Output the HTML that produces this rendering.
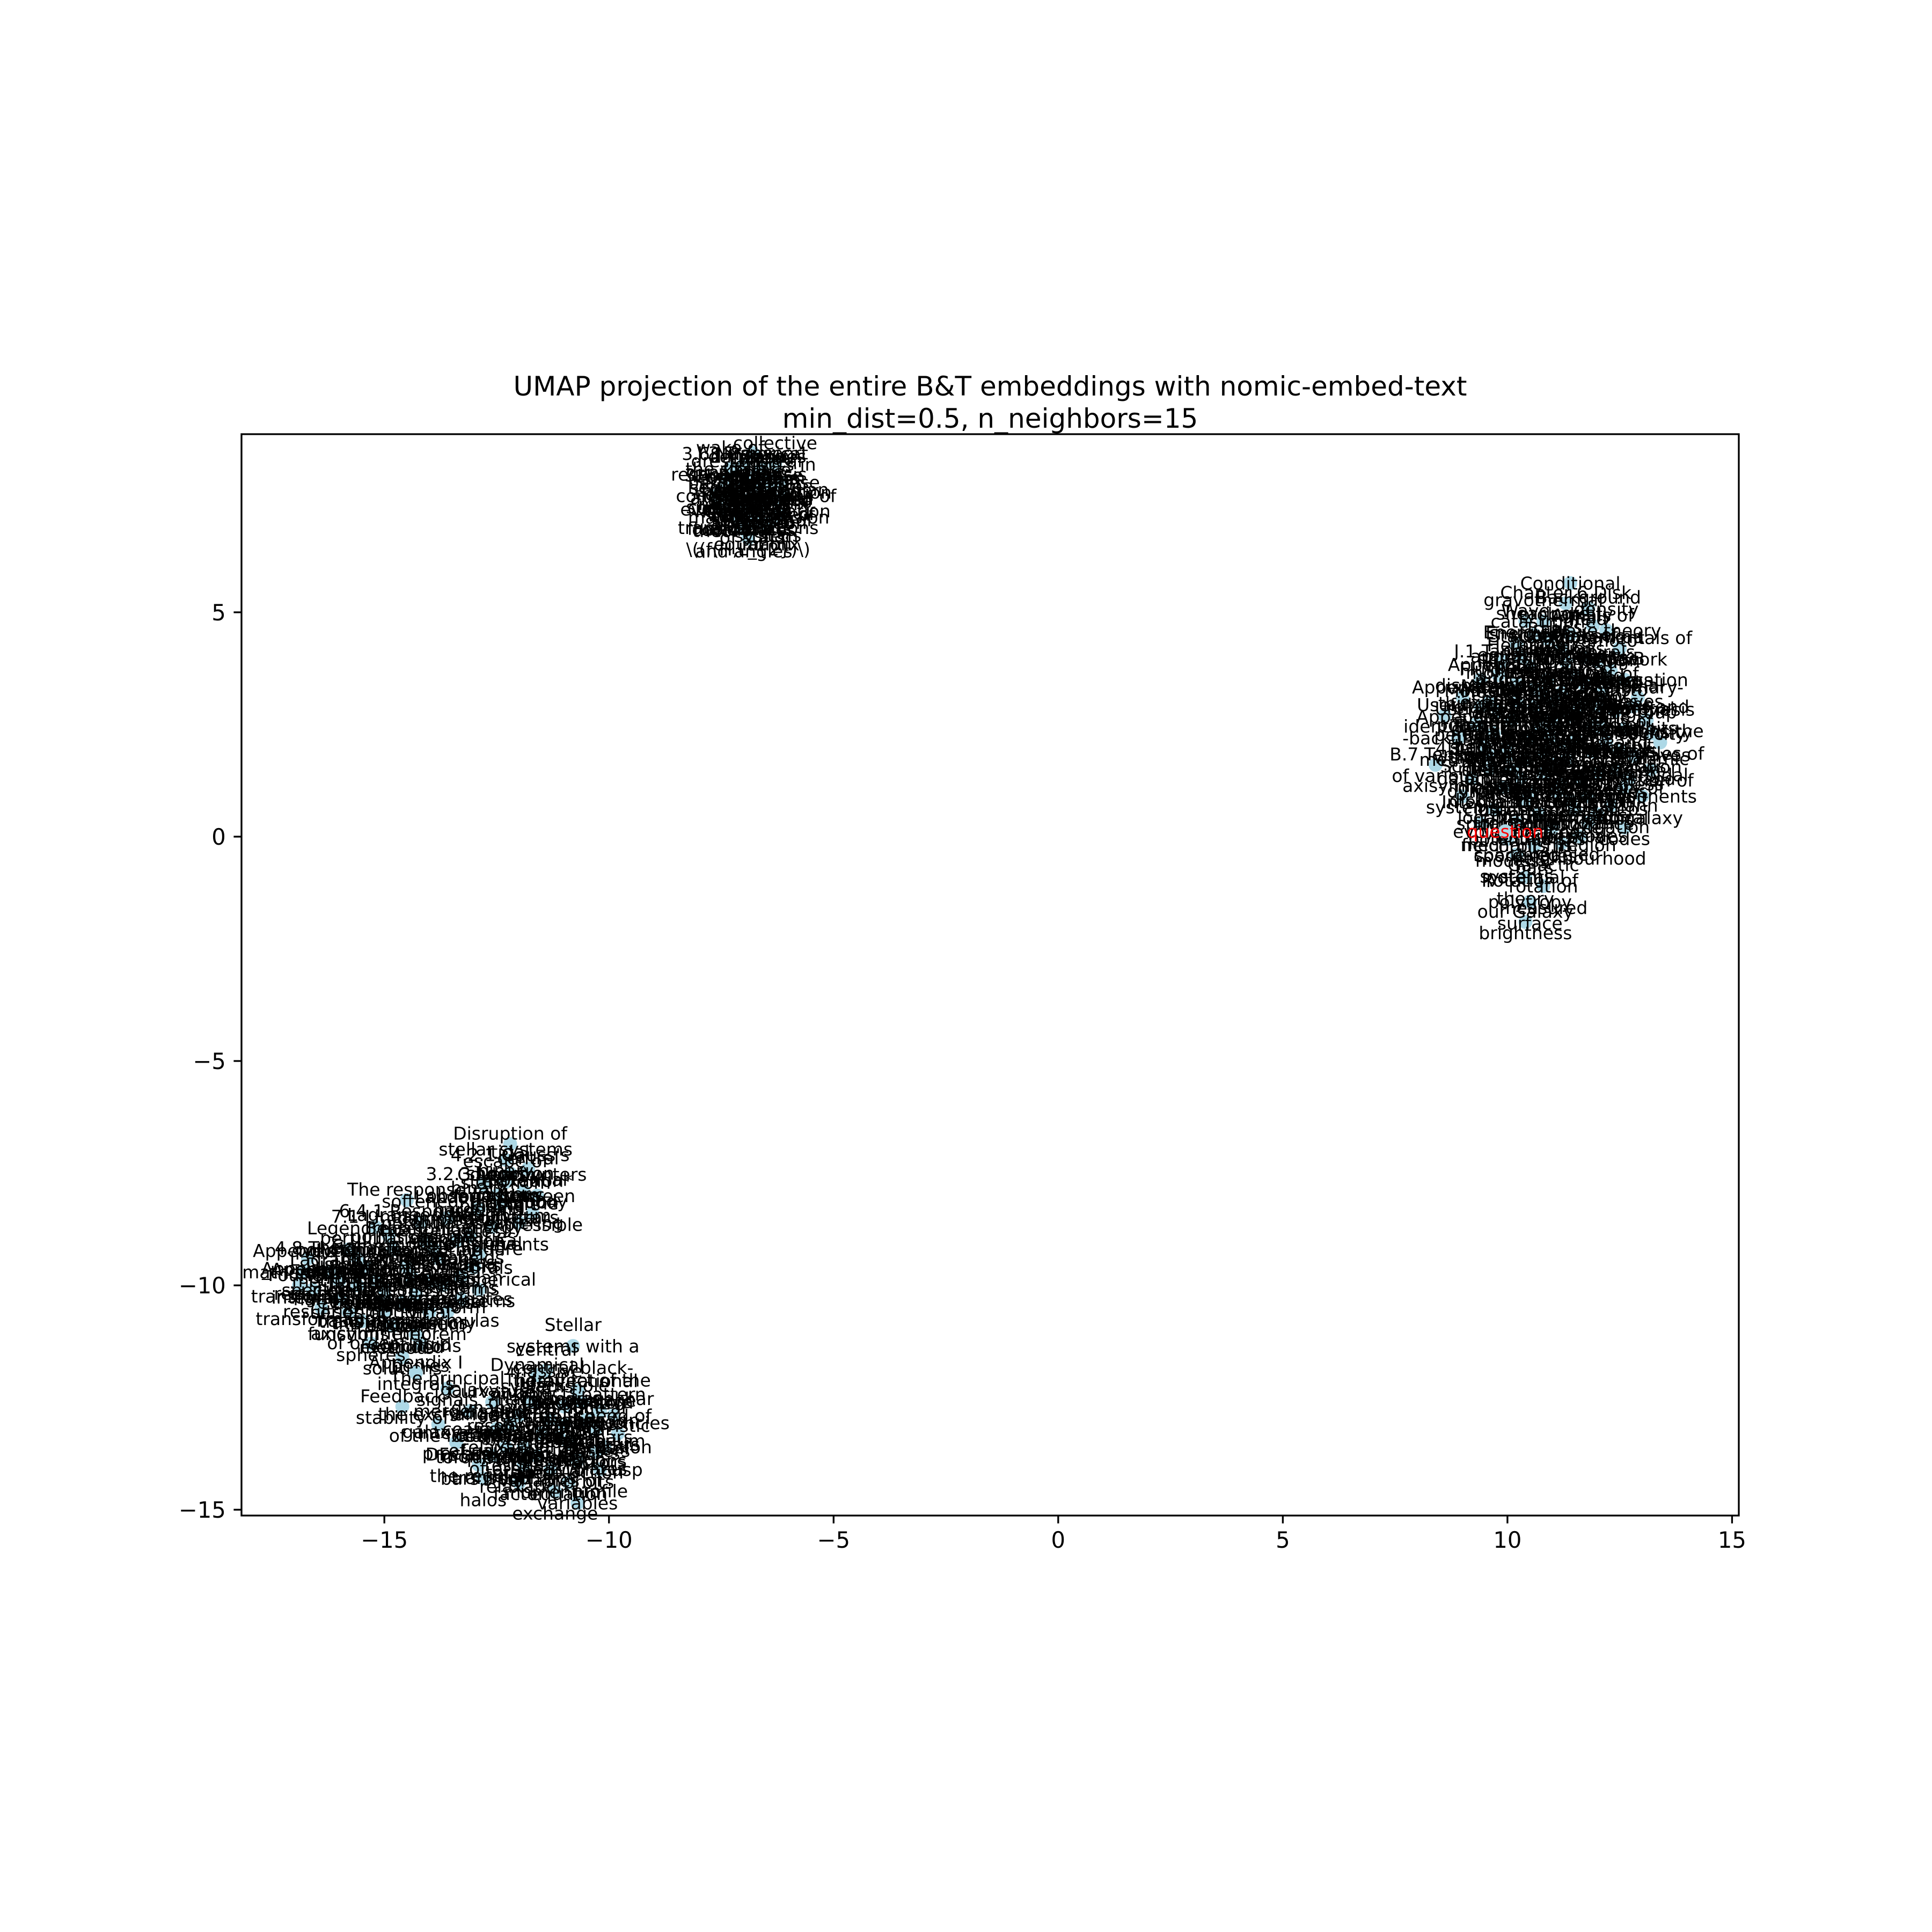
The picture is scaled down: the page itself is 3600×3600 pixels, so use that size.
<!DOCTYPE html>
<html><head><meta charset="utf-8"><style>
html,body{margin:0;padding:0;background:#fff;}
svg{display:block;font-family:"DejaVu Sans","Liberation Sans",sans-serif;}
</style></head><body>
<svg id="chart" width="3600" height="3600" viewBox="0 0 3600 3600">
<rect x="0" y="0" width="3600" height="3600" fill="#fff"/>
<text x="1845" y="737" font-size="50" text-anchor="middle">UMAP projection of the entire B&amp;T embeddings with nomic-embed-text</text>
<text x="1845" y="797" font-size="50" text-anchor="middle">min_dist=0.5, n_neighbors=15</text>
<g id="plot"></g>
<g id="axes"></g>
</svg>
<script>
const xTicks=[-15,-10,-5,0,5,10,15];
const yTicks=[5,0,-5,-10,-15];
const xTickLabels=["\u221215","\u221210","\u22125","0","5","10","15"];
const yTickLabels=["5","0","\u22125","\u221210","\u221215"];
const xDomain=[-18.18,15.15];
const yDomain=[-15.13,8.97];

const rightX=[11.4,11.3,11.8,10.4,11.9,10.9,12.5,9.9,12.3,9.4,9.0,10.6,11.7,12.9,8.6,13.1,10.1,11.4,8.9,13.4,12.2,10.8,8.4,9.6,13.2,11.6,12.6,9.0,10.4,12.0,9.4,11.0,10.2,11.2,10.4,10.5,10.4,11.3,10.2,12.0,10.0,12.6,9.6,11.0,11.5,10.3,12.8,11.1,9.8,12.1,
10.5,11.5,12.2,9.8,10.7,11.9,12.6,9.5,10.5,11.3,12.4,9.9,10.8,11.8,12.3,10.7,11.5,9.7,10.9,11.7,10.3,12.8,9.3,11.0,11.9,10.4,11.2,12.7,10.0,11.4,10.8,12.2,9.2,13.0,10.6,11.6,10.0,10.8,11.0,10.2,
10.2,11.2,12.0,10.6,11.6,12.4,9.7,10.9,12.1,10.1,11.0,12.0,10.5,11.4,12.5,9.6,11.2,10.6,12.6,9.4,13.2,11.8,10.2,11.3,10.8];
const rightY=[5.65,5.2,5.1,4.8,4.7,4.4,4.2,3.9,3.7,3.5,3.1,3.3,3.4,3.1,2.7,2.6,2.6,2.7,2.2,2.1,2.1,1.9,1.6,1.5,1.5,1.3,1.1,0.9,0.8,0.5,0.3,0.2,-0.4,-0.15,-0.9,-1.45,-1.9,3.9,4.3,2.9,2.0,0.2,3.0,3.0,2.2,1.3,1.8,1.0,3.6,3.2,
3.8,3.6,3.5,2.8,2.5,2.5,2.4,2.0,2.2,1.7,1.5,1.1,1.4,0.9,0.7,0.5,0.6,0.6,3.5,4.0,4.0,2.9,2.5,2.6,1.9,1.7,1.2,1.3,1.8,4.5,4.8,4.6,1.3,0.9,-0.2,0.0,-0.05,-1.1,2.2,3.0,
3.4,3.2,3.9,2.9,2.9,2.8,2.3,2.3,2.4,1.5,1.6,1.4,1.0,0.8,1.9,1.8,4.2,4.5,3.5,2.9,2.3,0.3,0.3,2.0,3.2];
const rightLabels=["Conditional","Chapter 6 Disk\nprobability","Background\nfield","Wave\nEnergy of","Annals of\ntheorem da","Trans\nderivation","fundamentals of\nframework","J.1 Tangent\nmoment","design\nlensing","Fluid\nMoment","Appendix A\nUseful","potential\ntheory of\nscattering","equations of\nmotion for","Summary-\nretrieval","Useful\nidentities","hypothesis\nsolutions the","spherical\nsystems with\nrotation","orbits in\naxisymmetric\npotentials","Appendix\n-background\nmethods","density\nprofiles of","stability of\ndisks and\nspheres","kinetic\ntheory of\nclusters","B.7 Tensor\nof various","4.1 Collision\nstellar\ndynamics","dynamic\nfriction of","relaxation\nprocesses","scenarios\ntheory of\nsteps","axisymmetric\nsystems","integrals of\nthe motion\nformation","accretion\nand\nmodes","Integrals\nspiral\nfield","resonances\nin disks","vertical\nspace-led\nsystems","halo\nmodeled","coordinates\npotential\ntheory","Rotation of\npolytropy\nsurface","our Galaxy\nbrightness","Kepler\npotential","Energy\nequation","galaxy\nmodels","Jeans\nequations","spiral\ncodes","Mestel\ndisk","epicycle\napproximation","virial\ntheorem","isochrone\npotential","orbit\nintegration","distribution\nfunctions","Appendix B\nMethods","Lindblad\nresonances",
"Hernquist\nmodel for\nbulges","Plummer\nsphere and\nclusters","surface\nbrightness\nprofiles","rotation\ncurves of\ngalaxies","dark matter\nhalos and\nsubstructure","tidal\nstripping of\nsatellites","bar\ninstability\nin disks","Toomre\nstability\ncriterion","swing\namplification\nof waves","phase\nmixing and\nrelaxation","velocity\ndispersion\nprofiles","Schwarzschild\nmethod of\norbits","Poisson\nequation\nsolutions","moment\nequations\nof motion","collisionless\nBoltzmann\nequation","action-angle\nvariables\nof orbits","N-body\nsimulation\ncodes","globular\ncluster\nevolution","Oort\nconstants\nof Galaxy","adiabatic\ninvariants\nof motion","Stackel\npotentials\nand orbits","triaxial\nsystems and\nbox orbits","thin disk\npotential\ntheory","mass-to-light\nratio of\ngalaxies","heating of\nthe stellar\ndisk","Jeans\ntheorem for\nsystems","entropy of\nstellar\nsystems","tidal\nradius and\nlimit","Eddington\nformula for\nDF","core\ncollapse of\nclusters","gravothermal\ncatastrophe\nmodel","density\nwave theory\nspirals","warps of\ngalactic\ndisks","spheroidal\ncomponents\nof galaxy","resonant\norbits in\nbars","kinematics\nof solar\nneighbourhood","logarithmic\npotential\nmodels","Galactic\nrotation\nmeasured","cosmological\nsimulations\nof halos","multipole\nexpansion of\npotential",
"Kuzmin\ndisk model\nsurface","exponential\ndisk and\nprofiles","Miyamoto-\nNagai\npotential","Jaffe\nmodel and\nprofiles","NFW\nprofile of\nhalos","Einasto\nprofile of\nhalos","King\nmodels of\nclusters","Michie\nmodels of\nsystems","Osipkov-\nMerritt\nmodels","anisotropic\ndistribution\nfunctions","Abel\nintegral\nequations","Fricke\nexpansion\nmethods","made-to-\nmeasure\nmethods","torus\nconstruction\nmethods","orbit\nlibraries\nmodeling","perturbation\ntheory of\norbits","Hill's\nequations\nof motion","shearing\nsheet\napproximation","WKB\napproximation\nof waves","dispersion\nrelation\nof disk","group\nvelocity\nof waves","corotation\nresonance\nregion","bulge\nformation\nmechanisms","thick disk\nformation\nscenarios","chemical\nevolution\nof disks"];

const topX=[-6.8,-7.0,-6.7,-7.2,-6.4,-6.9,-6.6,-7.1,-6.5,-6.9,-6.3,-7.3,-6.8,-6.6,-7.0,
-7.4,-6.2,-7.5,-6.2,-6.9,-6.8,-7.3,-6.3,-6.7,-7.6,-6.1,-7.0,
-6.6,-7.2,-6.5,-7.1,-6.8,-6.4];
const topY=[8.55,8.3,8.0,7.8,7.75,7.5,7.3,7.1,6.95,6.65,7.5,7.5,7.9,8.2,7.2,
7.9,7.9,7.3,7.2,8.0,7.0,8.2,8.3,7.7,7.6,7.6,6.85,
7.4,7.65,8.0,7.35,7.15,7.0];
const topLabels=["J.3 Transport","3.6 Numerical\n3.4 Response","derivatives\nwave\ndensity","(Equations\nand forms","in the\nextended","coupled\nequations","generalized\nsolutions of","coordinates\nand the","perturbed\nsystem","transformations\n\\((f(H,L_{2})\\)","Hamiltonian\nperturbation","Fokker\nPlanck","Kinetic\nequation","Landau\nequation","Balescu\nLenard",
"dressed\nparticles\nmodel","linear\nresponse\nmatrix","secular\nevolution\ntheory","polarization\ncloud of\nstars","diffusion\ncoefficients\nof orbits","orbit-\naveraged\nequation","wake of\nthe stellar\nsystem","collective\neffects in\nsystems","Laplace\ntransform\nmethod","resonance\ncondition\nmatrix","basis\nfunctions of\nexpansion","canonical\ncoordinates\nand angles",
"flux in\naction\nspace","quasilinear\ntheory of\nwaves","Vlasov\nequation\nlinearized","noise\nspectrum of\nfluctuations","correlation\nfunctions\nof stars","dielectric\nfunction\nmatrix"];

const leftX=[-12.2,-12.3,-11.8,-12.8,-11.9,-12.4,-14.5,-11.7,-13.6,-12.6,-15.2,-14.1,-12.9,-16.7,-15.6,-14.5,-13.3,-16.9,-15.6,-14.3,-12.9,-16.4,-15.0,-13.6,-14.3,-15.3,-14.6,
-15.8,-14.8,-13.8,-16.2,-15.2,-14.0,-13.0,-16.0,-15.0,-14.0,-15.5,-14.8,-13.4,-14.9,-12.3,-11.6,-12.0,-12.9,-13.3,-16.6,-16.8,-14.2,
-15.4,-14.4,-13.7,-16.0,-15.0,-14.6,-13.9,-12.5,-12.2,-15.8,-14.2,-13.1];
const leftY=[-6.85,-7.2,-7.4,-7.75,-7.9,-8.2,-8.1,-8.4,-8.5,-8.7,-8.7,-9.0,-9.3,-9.4,-9.4,-9.6,-9.8,-10.0,-10.0,-10.2,-10.1,-10.5,-10.6,-10.6,-11.1,-11.3,-11.6,
-9.2,-9.2,-9.4,-9.7,-9.9,-9.9,-9.6,-10.3,-10.3,-10.6,-10.8,-10.9,-9.0,-8.9,-7.7,-8.0,-8.6,-8.3,-10.3,-10.1,-9.7,-8.6,
-9.6,-9.8,-10.0,-9.9,-10.1,-10.4,-9.2,-8.0,-7.5,-10.6,-11.3,-8.9];
const leftLabels=["Disruption of\n4.2.1 Gauss's","stellar systems\nbinary","central\npotential","3.2.3 Nearby\nobservations","relaxation*\nsolution","Fokker\nequilibrium","The response\n6.4.1 Response","of the\nexpressible","Landau\ndamping of\nsphere","binding\nenergy\nandare","7.1 Linear\nperturbation","the stellar\nmass","collisional\ndisks","4.8 The\n_Appendix","stellar\ndynamics","gravitational\npotential of","axis and\nsystems","Fourier\ntransforms","Distribution\nfunctions\nof","the Jeans\nequations","the spherical\nsystems","integrals of\ntransformation","equations of\nthe motions","potential\ntheory","equilibrium\nconditions","axisymmetric\nspheres","extended\nsolutions",
"Legendre\npolynomials\nexpansion","Bessel\nfunctions\nof order","special\nfunctions\nidentities","vector\ncalculus\nidentities","Green's\nfunction of\nLaplacian","delta\nfunction\nproperties","elliptic\nintegrals\nforms","spherical\nharmonics\nbasis","Gaussian\nintegrals\nof forms","tensor\nvirial\ntheorem","Hankel\ntransform\nof order","Mellin\ntransform\nmethod","numerical\nintegration\nschemes","Lagrange\npoints of\nsystems","escape of\nstars from\nclusters","encounters\nbetween\nstars","three-body\nscattering\nevents","binary\nhardening\nrates","Cartesian\ncoordinates\nformulas","Appendix D\nspecial\nresults","Appendix C\nmathematical\nresults","softened\npotential\nmodels",
"Gamma\nfunction\nidentities","Poisson\nbrackets\nproperties","Jacobian\nof the\ntransform","Lagrangian\nmechanics\nreview","Hamilton's\nequations\nof motion","Liouville\ntheorem\nproof","canonical\ntransforms\nof maps","Coulomb\nlogarithm\nestimate","tidal\nshocks on\nclusters","Fourier\nseries of\nfunctions","mechanics\nof rigid\nbodies","diffusion\nof binaries\nin fields"];

const lowX=[-10.8,-14.3,-13.6,-10.7,-14.6,-12.6,-10.2,-13.8,-11.3,-9.8,-13.4,-11.9,-10.3,-12.9,-11.3,-12.0,-10.9,-10.7,-11.6,-12.2,-10.9,
-11.0,-11.7,-10.3,-11.5,-12.3,-10.7,-11.9,-10.2,-12.5,-13.1,-12.8,-11.2,-9.9,-11.4,
-11.1,-10.5,-12.0,-11.6,-10.6,-12.6,-11.0,-10.1];
const lowY=[-11.35,-11.95,-12.3,-12.35,-12.7,-12.6,-12.8,-13.1,-13.0,-13.3,-13.5,-13.6,-13.7,-14.0,-14.1,-14.4,-14.4,-14.85,-12.0,-13.1,-13.5,
-12.7,-12.6,-13.2,-13.3,-13.6,-13.9,-14.0,-14.1,-13.2,-12.8,-14.3,-14.6,-12.9,-11.9,
-13.4,-13.0,-12.9,-13.8,-12.6,-13.8,-13.1,-13.6];
const lowLabels=["Stellar\nsystems with a\ncentral black-","Appendix I\nintegrals","The principal\nsignals","The effect of the\nDisk relative","Feedback\nstability of","Curvature\nadiabatic","average\nspeed","the exchange\nof the local","Hamiltonian\nperturbation\ntheory","frequencies\nstars","galaxy stars\nprocess","dynamical\nfriction of","equilibrium\nfactors","DFs and the\nthe regular","angle-action\nvariables of","torques\nfactor","angle-action\nequation","variables","Dynamical\nsystems","slow\ncoalescence","orbital\nfrequencies",
"black hole\nloss cone\nrefilling","tidal\ndisruption\nevents","nuclear\nstar\nclusters","merging\nblack hole\nbinaries","resonant\nrelaxation\nof orbits","Kozai\noscillations\nof orbits","vector\nresonant\nrelaxation","Bahcall-\nWolf cusp\nprofile","dynamical\ncoalescence\nof galaxies","galaxy\nmergers and\ninteractions","torques on\nbars from\nhalos","angular\nmomentum\nexchange","pattern\nspeed of\nbars","central\nmassive\nobjects",
"satellite\norbits\ndecay","Chandrasekhar\nformula for\ndrag","sinking\nsatellites\nin halos","dynamical\nheating by\nsubhalos","gravitational\nwaves from\nbinaries","angular\nmomentum\ntransport","secular\ndrift of\norbits","relativistic\nprecession\nrates"];

const questionX=[9.95];
const questionY=[0.12];
const questionLabels=["question"];

const L=450,R=3240,T=809,B=2824;
function sx(v){return L+(v-xDomain[0])/(xDomain[1]-xDomain[0])*(R-L);}
function sy(v){return B-(v-yDomain[0])/(yDomain[1]-yDomain[0])*(B-T);}
const NS="http://www.w3.org/2000/svg";
const plot=document.getElementById('plot');
const axes=document.getElementById('axes');

function drawCluster(xs,ys,labels,color,name){
  const g=document.createElementNS(NS,'g');
  
  
  for(let i=0;i<xs.length;i++){
    const c=document.createElementNS(NS,'circle');
    c.setAttribute('cx',sx(xs[i]));c.setAttribute('cy',sy(ys[i]));c.setAttribute('r',13);
    c.setAttribute('fill','#add8e6');
    
    
    g.appendChild(c);
  }
  for(let i=0;i<xs.length;i++){
    const lines=labels[i].split('\n');
    const t=document.createElementNS(NS,'text');
    t.setAttribute('text-anchor','middle');
    t.setAttribute('font-size','33');
    t.setAttribute('fill',color);
    
    
    const cx=sx(xs[i]),cy=sy(ys[i]);
    const lh=40,y0=cy-(lines.length-1)*lh/2+12;
    lines.forEach((ln,k)=>{
      const s=document.createElementNS(NS,'tspan');
      s.setAttribute('x',cx);s.setAttribute('y',y0+k*lh);
      s.textContent=ln;t.appendChild(s);
    });
    g.appendChild(t);
  }
  plot.appendChild(g);
}
drawCluster(topX,topY,topLabels,'#000','cluster-top');
drawCluster(leftX,leftY,leftLabels,'#000','cluster-left');
drawCluster(lowX,lowY,lowLabels,'#000','cluster-lower');
drawCluster(rightX,rightY,rightLabels,'#000','cluster-right');
drawCluster(questionX,questionY,questionLabels,'#ff0000','question-marker');

const frame=document.createElementNS(NS,'rect');
frame.setAttribute('x',L);frame.setAttribute('y',T);frame.setAttribute('width',R-L);frame.setAttribute('height',B-T);
frame.setAttribute('fill','none');frame.setAttribute('stroke','#000');frame.setAttribute('stroke-width','3.3');


axes.appendChild(frame);

xTicks.forEach((v,i)=>{
  const x=sx(v);
  const ln=document.createElementNS(NS,'line');
  ln.setAttribute('x1',x);ln.setAttribute('x2',x);ln.setAttribute('y1',B);ln.setAttribute('y2',B+14.6);
  ln.setAttribute('stroke','#000');ln.setAttribute('stroke-width','3.3');
  
  
  axes.appendChild(ln);
  const t=document.createElementNS(NS,'text');
  t.setAttribute('x',x);t.setAttribute('y',B+14.6+14.6+31);
  t.setAttribute('text-anchor','middle');t.setAttribute('font-size','41.7');
  t.textContent=xTickLabels[i];
  
  
  axes.appendChild(t);
});
yTicks.forEach((v,i)=>{
  const y=sy(v);
  const ln=document.createElementNS(NS,'line');
  ln.setAttribute('x1',L-14.6);ln.setAttribute('x2',L);ln.setAttribute('y1',y);ln.setAttribute('y2',y);
  ln.setAttribute('stroke','#000');ln.setAttribute('stroke-width','3.3');
  
  
  axes.appendChild(ln);
  const t=document.createElementNS(NS,'text');
  t.setAttribute('x',L-14.6-14.6);t.setAttribute('y',y+15);
  t.setAttribute('text-anchor','end');t.setAttribute('font-size','41.7');
  t.textContent=yTickLabels[i];
  
  
  axes.appendChild(t);
});
</script>
</body></html>
